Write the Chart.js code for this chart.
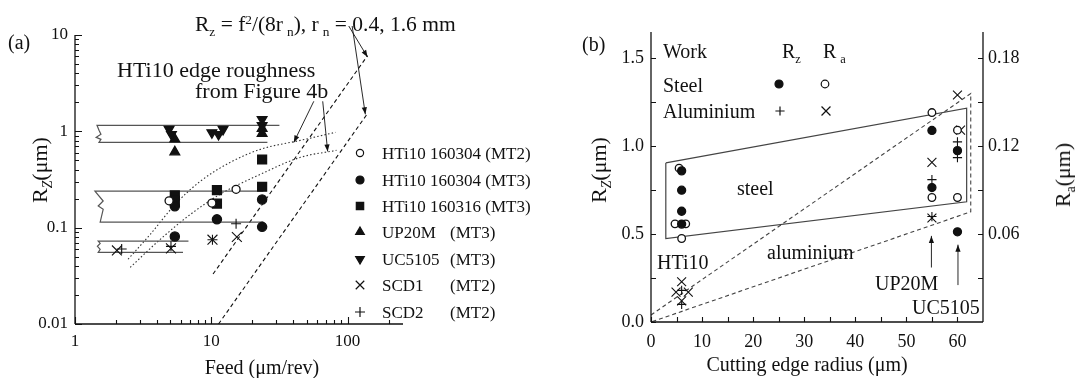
<!DOCTYPE html>
<html>
<head>
<meta charset="utf-8">
<script src="https://cdn.jsdelivr.net/npm/chart.js"></script>
<style>
  html, body { margin: 0; padding: 0; background: #fff; }
  #wrap { position: relative; width: 1077px; height: 378px; overflow: hidden;
          font-family: "Liberation Serif", "Times New Roman", serif; color: #111; }
  canvas { position: absolute; top: 0; }
  #cA { left: 0; }
  #cB { left: 540px; }
  .t { position: absolute; white-space: pre; line-height: 1; }
  .sub { font-size: 0.62em; position: relative; top: 0.38em; }
  .sup { font-size: 0.62em; position: relative; top: -0.5em; }
  .rot { transform-origin: center; transform: translate(-50%, -50%) rotate(-90deg); }
  .ctr { transform: translate(-50%, -50%); }
</style>
</head>
<body>
<div id="wrap">
  <canvas id="cA" width="540" height="378" style="width:540px;height:378px"></canvas>
  <canvas id="cB" width="537" height="378" style="width:537px;height:378px"></canvas>

  <!-- panel (a) text -->
  <div class="t" style="left:8px;top:32px;font-size:20px">(a)</div>
  <div class="t" style="left:195px;top:14px;font-size:21.5px">R<span class="sub">z</span> = f<span class="sup">2</span>/(8r<span class="sub" style="margin-left:4px">n</span>), r<span class="sub" style="margin-left:4px">n</span> = 0.4, 1.6 mm</div>
  <div class="t" style="left:117px;top:59px;font-size:22px">HTi10 edge roughness</div>
  <div class="t" style="left:195px;top:80px;font-size:22px">from Figure 4b</div>
  <div class="t rot" style="left:40px;top:170px;font-size:22px">R<span class="sub"><i>Z</i></span>(μm)</div>
  <div class="t ctr" style="left:262px;top:367px;font-size:20px">Feed (μm/rev)</div>
  <div id="legendA"></div>

  <!-- panel (b) text -->
  <div class="t" style="left:582px;top:34px;font-size:20px">(b)</div>
  <div class="t" style="left:663px;top:41px;font-size:20px">Work</div>
  <div class="t" style="left:782px;top:41px;font-size:20px">R<span class="sub">z</span></div>
  <div class="t" style="left:823px;top:41px;font-size:20px">R<span class="sub" style="margin-left:4px">a</span></div>
  <div class="t" style="left:663px;top:75px;font-size:20px">Steel</div>
  <div class="t" style="left:663px;top:101px;font-size:20px">Aluminium</div>
  <div class="t" style="left:737px;top:178px;font-size:20px">steel</div>
  <div class="t" style="left:767px;top:242px;font-size:20px">aluminium</div>
  <div class="t" style="left:657px;top:252px;font-size:20px">HTi10</div>
  <div class="t" style="left:875px;top:273px;font-size:20px">UP20M</div>
  <div class="t" style="left:912px;top:297px;font-size:20px">UC5105</div>
  <div class="t rot" style="left:599px;top:170px;font-size:22px">R<span class="sub"><i>Z</i></span>(μm)</div>
  <div class="t rot" style="left:1063px;top:175px;font-size:22px">R<span class="sub">a</span>(μm)</div>
  <div class="t ctr" style="left:807px;top:364px;font-size:20px">Cutting edge radius (μm)</div>
</div>

<script>
// ---------- panel (a): Rz against feed, log-log ----------
const feedTicks = [1, 10, 100];
const rzTicksA = [0.01, 0.1, 1, 10];

const seriesNamesA = ['HTi10 160304 (MT2)', 'HTi10 160304 (MT3)', 'HTi10 160316 (MT3)', 'UP20M', 'UC5105', 'SCD1', 'SCD2'];
const machineA = ['', '', '', '(MT3)', '(MT3)', '(MT2)', '(MT2)'];

const hti304mt2Feed = [4.9, 10.1, 15.2];
const hti304mt2Rz = [0.19, 0.18, 0.25];
const hti304mt3Feed = [5.4, 5.4, 11.0, 23.6, 23.6];
const hti304mt3Rz = [0.167, 0.081, 0.122, 0.196, 0.102];
const hti316Feed = [5.4, 5.4, 11.0, 11.0, 23.6, 23.6];
const hti316Rz = [0.216, 0.19, 0.245, 0.178, 0.51, 0.266];
const up20mFeed = [5.4, 5.4, 23.6, 23.6];
const up20mRz = [0.83, 0.61, 1.07, 0.95];
const uc5105Feed = [4.9, 5.1, 10.1, 11.3, 12.2, 23.6, 23.6];
const uc5105Rz = [1.05, 0.93, 0.97, 0.93, 1.05, 1.33, 1.15];
const scd1Feed = [2.03, 5.06, 10.2, 15.4];
const scd1Rz = [0.058, 0.061, 0.075, 0.08];
const scd2Feed = [2.2, 5.06, 10.2, 15.2];
const scd2Rz = [0.06, 0.064, 0.075, 0.11];

// scatter bands (with break mark on the left)
const bandHiFeed = [31.6, 1.45, 1.50, 1.55, 1.43, 1.55, 1.50, 25.8];
const bandHiRz = [1.154, 1.154, 1.024, 0.931, 0.866, 0.826, 0.769, 0.769];
const bandMidFeed = [24.1, 1.40, 1.61, 1.48, 1.61, 1.53, 24.1];
const bandMidRz = [0.240, 0.240, 0.189, 0.168, 0.155, 0.114, 0.114];
const bandLowFeed = [6.8, 1.48, 1.53, 1.46, 1.53, 1.48, 6.2];
const bandLowRz = [0.0726, 0.0726, 0.0686, 0.064, 0.0596, 0.0553, 0.0553];

// theoretical Rz = f^2/(8 rn), straight on log-log
const rn04Feed = [10.3, 140];
const rn04Rz = [0.033, 6.1];
const rn16Feed = [11.3, 140];
const rn16Rz = [0.01, 1.53];

// HTi10 edge roughness curves from figure 4b
const edgeUpFeed = [2.45, 3.56, 5.44, 8.30, 13.8, 22.9, 45.1, 81.6];
const edgeUpRz = [0.047, 0.085, 0.175, 0.303, 0.477, 0.65, 0.806, 0.976];
const edgeLoFeed = [2.54, 4.22, 7.01, 11.6, 22.9, 45.1, 83.0];
const edgeLoRz = [0.0387, 0.0756, 0.137, 0.222, 0.358, 0.537, 0.635];

// callout arrows [x1, y1, x2, y2] in data units
const arrowsA = [
  [102, 12.4, 140, 5.9],
  [108, 12.4, 135, 1.5],
  [56.5, 2.05, 40.3, 0.768],
  [65.7, 2.05, 71.4, 0.619]
];

// ---------- panel (b): Rz / Ra against cutting edge radius ----------
const radiusTicks = [0, 10, 20, 30, 40, 50, 60];
const rzTicksB = [0, 0.5, 1.0, 1.5];
const raTicksB = [0.06, 0.12, 0.18];

const steelRzX = [6, 6, 6, 6, 55, 55, 60, 60];
const steelRz = [0.86, 0.75, 0.63, 0.557, 1.09, 0.765, 0.975, 0.513];
const steelRaX = [5.5, 4.7, 6.8, 6, 55, 55, 60, 60];
const steelRa = [0.105, 0.067, 0.067, 0.057, 0.143, 0.085, 0.131, 0.085];
const aluRzX = [6, 6, 55, 55, 60, 60];
const aluRz = [0.18, 0.10, 0.81, 0.60, 1.025, 0.935];
const aluRaX = [6, 4.9, 7.3, 6, 55, 55, 60, 60.6];
const aluRa = [0.0275, 0.0204, 0.0204, 0.0144, 0.109, 0.071, 0.155, 0.131];

const steelBoxX = [2.9, 61.8, 61.8, 2.9, 2.9];
const steelBoxY = [0.905, 1.216, 0.684, 0.474, 0.905];
const aluBoundX = [0, 62.6, 62.6, 0];
const aluBoundY = [0.04, 1.30, 0.627, 0];

const arrowsB = [
  [54.9, 0.31, 54.9, 0.49],
  [60.1, 0.21, 60.1, 0.44]
];

// ---------- helpers ----------
const FONT = 'Liberation Serif';
const INK = '#111';
const pts = (xs, ys) => xs.map((x, i) => ({ x: x, y: ys[i] }));

function logMinor(lo, hi) {
  const out = [];
  for (let d = lo; d < hi; d *= 10) {
    for (let k = 2; k <= 9; k++) {
      const v = +(k * d).toPrecision(3);
      if (v < hi) out.push(v);
    }
  }
  return out;
}
function steps(lo, hi, st) {
  const out = [];
  for (let v = lo; v <= hi + 1e-9; v += st) out.push(+v.toFixed(4));
  return out;
}

function marker(data, style, r, filled, extra) {
  return Object.assign({
    data: data, showLine: false, pointStyle: style, pointRadius: r,
    pointBackgroundColor: filled ? INK : '#fff', pointBorderColor: INK,
    pointBorderWidth: 1.3, order: 0
  }, extra || {});
}
function path(data, color, dash, extra) {
  return Object.assign({
    data: data, showLine: true, borderColor: color, borderWidth: 1.2,
    borderDash: dash, pointRadius: 0, tension: 0, order: 5
  }, extra || {});
}

function drawArrow(ctx, x1, y1, x2, y2) {
  ctx.beginPath();
  ctx.moveTo(x1, y1);
  ctx.lineTo(x2, y2);
  ctx.stroke();
  const a = Math.atan2(y2 - y1, x2 - x1), L = 7, W = 2.6;
  ctx.beginPath();
  ctx.moveTo(x2, y2);
  ctx.lineTo(x2 - L * Math.cos(a) + W * Math.sin(a), y2 - L * Math.sin(a) - W * Math.cos(a));
  ctx.lineTo(x2 - L * Math.cos(a) - W * Math.sin(a), y2 - L * Math.sin(a) + W * Math.cos(a));
  ctx.closePath();
  ctx.fill();
}

// axes with inward ticks, arrows and legend symbols
const framePlugin = {
  id: 'frame',
  afterDatasetsDraw(chart, args, opts) {
    const ctx = chart.ctx, a = chart.chartArea;
    ctx.save();
    ctx.strokeStyle = INK;
    ctx.fillStyle = INK;
    ctx.lineWidth = 1.3;
    ctx.setLineDash([]);
    for (const ax of opts.axes) {
      const sc = chart.scales[ax.id];
      ctx.beginPath();
      if (ax.side === 'bottom') { ctx.moveTo(a.left, a.bottom); ctx.lineTo(a.right, a.bottom); }
      if (ax.side === 'left') { ctx.moveTo(a.left, a.bottom); ctx.lineTo(a.left, a.top); }
      if (ax.side === 'right') { ctx.moveTo(a.right, a.bottom); ctx.lineTo(a.right, a.top); }
      ctx.stroke();
      const marks = ax.major.map(v => [v, ax.majorLen]).concat(ax.minor.map(v => [v, ax.minorLen]));
      ctx.lineWidth = 1.1;
      ctx.beginPath();
      for (const [v, len] of marks) {
        const p = Math.round(sc.getPixelForValue(v)) + 0.5;
        if (ax.side === 'bottom') { ctx.moveTo(p, a.bottom); ctx.lineTo(p, a.bottom - len); }
        if (ax.side === 'left') { ctx.moveTo(a.left, p); ctx.lineTo(a.left + len, p); }
        if (ax.side === 'right') { ctx.moveTo(a.right, p); ctx.lineTo(a.right - len, p); }
      }
      ctx.stroke();
      ctx.lineWidth = 1.3;
    }
    ctx.lineWidth = 0.9;
    const sx = chart.scales.x, sy = chart.scales.y;
    for (const [x1, y1, x2, y2] of opts.arrows) {
      drawArrow(ctx, sx.getPixelForValue(x1), sy.getPixelForValue(y1),
                sx.getPixelForValue(x2), sy.getPixelForValue(y2));
    }
    for (const m of opts.symbols) {
      ctx.fillStyle = m.filled ? INK : '#fff';
      ctx.strokeStyle = INK;
      ctx.lineWidth = 1.2;
      Chart.helpers.drawPoint(ctx, { pointStyle: m.style, radius: m.r, rotation: m.rot || 0, borderWidth: 1.2 }, m.x, m.y);
    }
    ctx.restore();
  }
};

function tickFont(size) {
  return { family: FONT, size: size };
}

// ---------- chart (a) ----------
const legendRowsA = [153, 180, 206, 232, 259, 285, 312];
const legendStylesA = [
  { style: 'circle', r: 3.6, filled: false },
  { style: 'circle', r: 4, filled: true },
  { style: 'rect', r: 5.2, filled: true },
  { style: 'triangle', r: 5, filled: true },
  { style: 'triangle', r: 5, filled: true, rot: 180 },
  { style: 'crossRot', r: 6, filled: false },
  { style: 'cross', r: 5, filled: false }
];

new Chart(document.getElementById('cA'), {
  type: 'scatter',
  data: {
    datasets: [
      marker(pts(hti304mt2Feed, hti304mt2Rz), 'circle', 4, false),
      marker(pts(hti304mt3Feed, hti304mt3Rz), 'circle', 4.6, true),
      marker(pts(hti316Feed, hti316Rz), 'rect', 6.3, true),
      marker(pts(up20mFeed, up20mRz), 'triangle', 5.6, true),
      marker(pts(uc5105Feed, uc5105Rz), 'triangle', 5.6, true, { pointRotation: 180 }),
      marker(pts(scd1Feed, scd1Rz), 'crossRot', 7, false, { pointBorderWidth: 1.1 }),
      marker(pts(scd2Feed, scd2Rz), 'cross', 5, false, { pointBorderWidth: 1.1 }),
      path(pts(bandHiFeed, bandHiRz), '#555', []),
      path(pts(bandMidFeed, bandMidRz), '#555', []),
      path(pts(bandLowFeed, bandLowRz), '#555', []),
      path(pts(rn04Feed, rn04Rz), INK, [4, 3], { borderWidth: 1.1 }),
      path(pts(rn16Feed, rn16Rz), INK, [4, 3], { borderWidth: 1.1 }),
      path(pts(edgeUpFeed, edgeUpRz), '#333', [1.5, 2.2], { borderWidth: 1.1, cubicInterpolationMode: 'monotone' }),
      path(pts(edgeLoFeed, edgeLoRz), '#333', [1.5, 2.2], { borderWidth: 1.1, cubicInterpolationMode: 'monotone' })
    ]
  },
  options: {
    responsive: false,
    animation: false,
    layout: { padding: { top: 35, right: 137, left: 0, bottom: 0 } },
    plugins: {
      legend: { display: false },
      tooltip: { enabled: false },
      frame: {
        axes: [
          { id: 'x', side: 'bottom', major: feedTicks, minor: logMinor(1, 255), majorLen: 7, minorLen: 4 },
          { id: 'y', side: 'left', major: rzTicksA, minor: logMinor(0.01, 10), majorLen: 7, minorLen: 4 }
        ],
        arrows: arrowsA,
        symbols: legendStylesA.map((s, i) => Object.assign({ x: 360, y: legendRowsA[i] }, s))
      }
    },
    scales: {
      x: {
        type: 'logarithmic', min: 1, max: 255,
        afterFit: s => { s.height = 54; },
        afterBuildTicks: s => { s.ticks = feedTicks.map(v => ({ value: v })); },
        grid: { display: false, drawTicks: false },
        border: { display: false },
        ticks: { padding: 7, font: tickFont(17), color: INK, maxRotation: 0, autoSkip: false, callback: v => String(v) }
      },
      y: {
        type: 'logarithmic', min: 0.01, max: 10,
        afterFit: s => { s.width = 75; },
        afterBuildTicks: s => { s.ticks = rzTicksA.map(v => ({ value: v })); },
        grid: { display: false, drawTicks: false },
        border: { display: false },
        ticks: { padding: 7, font: tickFont(17), color: INK, autoSkip: false, callback: v => String(v) }
      }
    }
  },
  plugins: [framePlugin]
});

// legend text for (a)
const legA = document.getElementById('legendA');
seriesNamesA.forEach((name, i) => {
  const top = legendRowsA[i] - 8.5;
  let html = '<div class="t" style="left:382px;top:' + top + 'px;font-size:17px">' + name + '</div>';
  if (machineA[i]) html += '<div class="t" style="left:450px;top:' + top + 'px;font-size:17px">' + machineA[i] + '</div>';
  legA.insertAdjacentHTML('beforeend', html);
});

// ---------- chart (b) ----------
new Chart(document.getElementById('cB'), {
  type: 'scatter',
  data: {
    datasets: [
      marker(pts(steelRzX, steelRz), 'circle', 4, true),
      marker(pts(aluRzX, aluRz), 'cross', 4.6, false, { pointBorderWidth: 1.1 }),
      marker(pts(steelRaX, steelRa), 'circle', 3.8, false, { yAxisID: 'y2', order: 1 }),
      marker(pts(aluRaX, aluRa), 'crossRot', 6.3, false, { yAxisID: 'y2', order: 1, pointBorderWidth: 1.1 }),
      path(pts(steelBoxX, steelBoxY), '#444', []),
      path(pts(aluBoundX, aluBoundY), '#444', [4, 3], { borderWidth: 1.1 })
    ]
  },
  options: {
    responsive: false,
    animation: false,
    layout: { padding: { top: 32, right: 0, left: 0, bottom: 0 } },
    plugins: {
      legend: { display: false },
      tooltip: { enabled: false },
      frame: {
        axes: [
          { id: 'x', side: 'bottom', major: radiusTicks, minor: steps(5, 55, 10), majorLen: 5, minorLen: 5 },
          { id: 'y', side: 'left', major: rzTicksB, minor: steps(0.25, 1.25, 0.5), majorLen: 5, minorLen: 5 },
          { id: 'y2', side: 'right', major: raTicksB, minor: steps(0.03, 0.15, 0.06), majorLen: 5, minorLen: 5 }
        ],
        arrows: arrowsB,
        symbols: [
          { x: 239, y: 84, style: 'circle', r: 4, filled: true },
          { x: 285, y: 84, style: 'circle', r: 3.8, filled: false },
          { x: 240, y: 111, style: 'cross', r: 4.6, filled: false },
          { x: 286, y: 111, style: 'crossRot', r: 6.3, filled: false }
        ]
      }
    },
    scales: {
      x: {
        type: 'linear', min: 0, max: 65,
        afterFit: s => { s.height = 56; },
        afterBuildTicks: s => { s.ticks = radiusTicks.map(v => ({ value: v })); },
        grid: { display: false, drawTicks: false },
        border: { display: false },
        ticks: { padding: 9, font: tickFont(18), color: INK, maxRotation: 0, autoSkip: false, callback: v => String(v) }
      },
      y: {
        type: 'linear', min: 0, max: 1.65, position: 'left',
        afterFit: s => { s.width = 111; },
        afterBuildTicks: s => { s.ticks = rzTicksB.map(v => ({ value: v })); },
        grid: { display: false, drawTicks: false },
        border: { display: false },
        ticks: { padding: 7, font: tickFont(18), color: INK, autoSkip: false, callback: v => Number(v).toFixed(1) }
      },
      y2: {
        type: 'linear', min: 0, max: 0.198, position: 'right',
        afterFit: s => { s.width = 94; },
        afterBuildTicks: s => { s.ticks = raTicksB.map(v => ({ value: v })); },
        grid: { display: false, drawTicks: false },
        border: { display: false },
        ticks: { padding: 5, font: tickFont(18), color: INK, autoSkip: false, callback: v => Number(v).toFixed(2) }
      }
    }
  },
  plugins: [framePlugin]
});
</script>
</body>
</html>
